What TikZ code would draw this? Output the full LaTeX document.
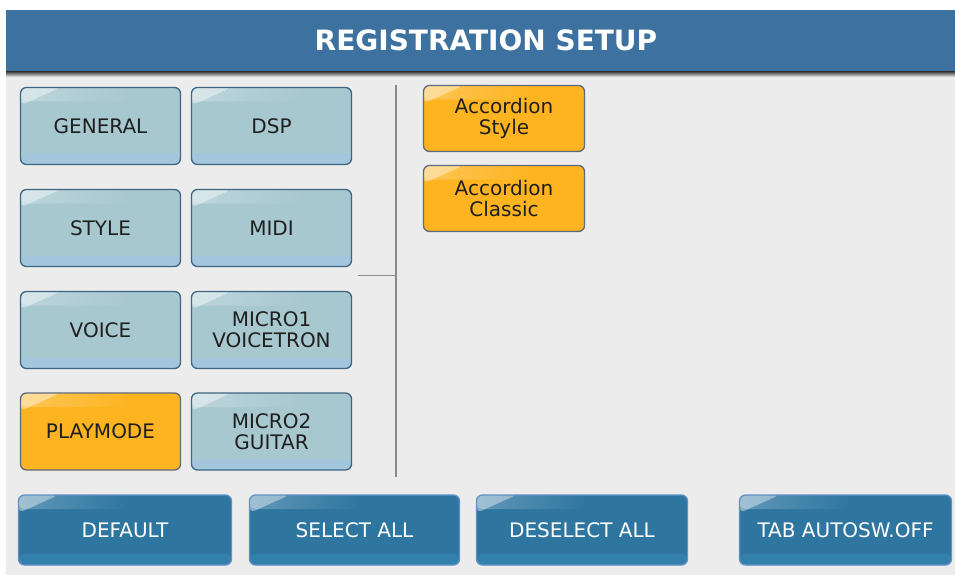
\documentclass[tikz,border=0pt]{standalone}
\usepackage{fontspec}
\setmainfont{DejaVu Sans}
\usetikzlibrary{fadings}

\definecolor{bggray}{HTML}{ECECEC}
\definecolor{headblue}{HTML}{3D72A0}
\definecolor{lightbtn}{HTML}{A8C8D0}
\definecolor{lightband}{HTML}{A4C6DC}
\definecolor{lightedge}{HTML}{3E6682}
\definecolor{orangebtn}{HTML}{FDB420}
\definecolor{orangeedge}{HTML}{5E6A80}
\definecolor{darkbtn}{HTML}{2E76A0}
\definecolor{darkband}{HTML}{3380AC}
\definecolor{darkedge}{HTML}{5F92C4}
\definecolor{sepgray}{HTML}{8A8A8A}

\tikzset{
  gloss/.style={path picture={
      \fill[white, fill opacity=0.4]
        (path picture bounding box.north west)
        -- ([xshift=40pt]path picture bounding box.north west)
        -- ([yshift=-18pt]path picture bounding box.north west) -- cycle;
      \fill[white, path fading=east, fill opacity=0.25]
        (path picture bounding box.north west)
        rectangle ([xshift=110pt, yshift=-14pt]path picture bounding box.north west);
      \fill[#1]
        ([yshift=11pt]path picture bounding box.south west)
        rectangle (path picture bounding box.south east);
  }},
  basebtn/.style={rounded corners=6pt, line width=1.3pt, align=center, inner sep=2pt,
    font=\fontsize{20}{21}\selectfont},
  menubtn/.style={basebtn, draw=lightedge, fill=lightbtn, gloss=lightband,
    minimum width=160pt, minimum height=77pt, text=black!88},
  onbtn/.style={basebtn, draw=orangeedge, fill=orangebtn, gloss=orangebtn,
    text=black!88},
  footbtn/.style={basebtn, draw=darkedge, fill=darkbtn, gloss=darkband,
    minimum height=70pt, text=white},
}

\begin{document}
\begin{tikzpicture}[x=1pt, y=-1pt]
    \useasboundingbox (0,0) rectangle (955,575);
    \fill[bggray] (0,0) rectangle (955,575);
    \fill[white] (0,0) rectangle (955,10);
    \fill[white] (0,0) rectangle (6,575);

    % title bar
    \fill[headblue] (6,10) rectangle (955,72);
    \shade[top color=black!70, bottom color=bggray] (6,72) rectangle (955,77);
    \node (title) [text=white, font=\bfseries\fontsize{28}{30}\selectfont] at (486,40) {REGISTRATION SETUP};

    % section buttons
    \node (general) [menubtn] at (100.5,126) {GENERAL};
    \node (dsp)     [menubtn] at (271.5,126) {DSP};
    \node (style)   [menubtn] at (100.5,228) {STYLE};
    \node (midi)    [menubtn] at (271.5,228) {MIDI};
    \node (voice)   [menubtn] at (100.5,330) {VOICE};
    \node (micro1)  [menubtn] at (271.5,330) {MICRO1\\VOICETRON};
    \node (playmode) [onbtn, minimum width=160pt, minimum height=77pt] at (100.5,431.5) {PLAYMODE};
    \node (micro2)  [menubtn] at (271.5,431.5) {MICRO2\\GUITAR};

    % separator
    \coordinate (sepT) at (396,85);
    \coordinate (sepB) at (396,477);
    \coordinate (sepM) at (396,275);
    \coordinate (sepL) at (358,275);
    \draw[sepgray, line width=1.4pt] (sepT) -- (sepB);
    \draw[sepgray, line width=1pt] (sepL) -- (sepM);

    % registrations
    \node (accstyle)   [onbtn, minimum width=161pt, minimum height=66pt] at (504,118.5) {Accordion\\Style};
    \node (accclassic) [onbtn, minimum width=161pt, minimum height=66pt] at (504,198.5) {Accordion\\Classic};

    % bottom row
    \node (default)  [footbtn, minimum width=213pt] at (125,530) {DEFAULT};
    \node (selall)   [footbtn, minimum width=210pt] at (354.5,530) {SELECT ALL};
    \node (deselall) [footbtn, minimum width=211pt] at (582,530) {DESELECT ALL};
    \node (tabauto)  [footbtn, minimum width=212pt] at (845.5,530) {TAB AUTOSW.OFF};
\end{tikzpicture}
\end{document}
